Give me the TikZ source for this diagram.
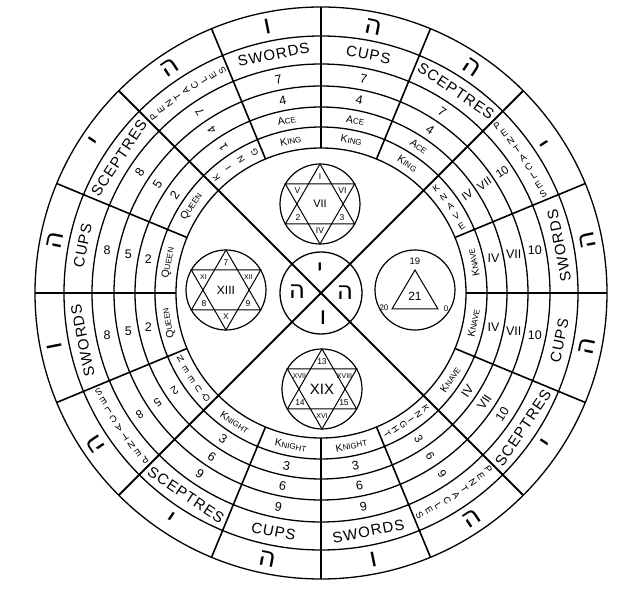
\documentclass[tikz,border=0pt]{standalone}
\usepackage{fontspec}
\setmainfont{Liberation Sans}
\newfontfamily\heb[Script=Hebrew]{DejaVu Sans}
\newfontfamily\suitf[LetterSpace=7]{Liberation Sans}
\TeXXeTstate=1
\newcommand{\hb}[1]{{\heb\beginR #1\endR}}
\newcommand{\fsz}[1]{\fontsize{#1}{#1}\selectfont}
\newcommand{\smc}[2]{{\fsz{10.5}#1\fsz{8}#2}}
\begin{document}
\begin{tikzpicture}[x=1pt,y=1pt,
  ring/.style={line width=1.3pt},
  spoke/.style={line width=1.6pt},
  diag/.style={line width=1.9pt},
  lbl/.style={inner sep=0pt,outer sep=0pt},
  medal/.style={circle,draw,line width=1.2pt,minimum size=80pt,inner sep=0pt,outer sep=0pt},
  starline/.style={line width=1pt},
  tiny/.style={lbl,font={\fsz{8.5}}},
  tinier/.style={lbl,font={\fsz{7}}}]
\useasboundingbox (-321,-298) rectangle (306,293);
\fill[white] (-321,-298) rectangle (306,293);
\coordinate (O) at (0,0);
% rings
\foreach \r in {145,166,186,207,229,257,286} \draw[ring] (O) circle (\r);
% spokes
\foreach \a in {0,22.5,67.5,90,112.5,157.5,180,202.5,247.5,270,292.5,337.5}
  \draw[spoke] (\a:145) -- (\a:286);
\draw[diag] (45:286) -- (225:286);
\draw[diag] (135:286) -- (315:286);
% central circle
\draw[ring] (O) circle (41);
\node[lbl,font={\fsz{25}\heb}] (cy) at (-1,23) {\hb{י}};
\node[lbl,font={\fsz{25}\heb}] (ch1) at (-24,1) {\hb{ה}};
\node[lbl,font={\fsz{25}\heb}] (ch2) at (24,0) {\hb{ה}};
\node[lbl,font={\fsz{25}\heb}] (cv) at (2,-25) {\hb{ו}};
% ordinary sectors
\foreach \t/\ro/\nr/\hl/\su/\na/\nb/\nc/\co [count=\i] in {
 56.25/-33.75/-33.75/ה/SCEPTRES/7/4/\smc{A}{CE}/\smc{K}{ING},
 78.75/-11.25/-11.25/ה/CUPS/7/4/\smc{A}{CE}/\smc{K}{ING},
 101.25/11.25/11.25/ו/SWORDS/7/4/\smc{A}{CE}/\smc{K}{ING},
 146.25/56.25/56.25/י/SCEPTRES/8/5/2/\smc{Q}{UEEN},
 168.75/78.75/0/ה/CUPS/8/5/2/\smc{Q}{UEEN},
 191.25/101.25/0/ו/SWORDS/8/5/2/\smc{Q}{UEEN},
 236.25/-33.75/-33.75/י/SCEPTRES/9/6/3/\smc{K}{NIGHT},
 258.75/-11.25/-11.25/ה/CUPS/9/6/3/\smc{K}{NIGHT},
 281.25/11.25/11.25/ו/SWORDS/9/6/3/\smc{K}{NIGHT},
 326.25/56.25/56.25/י/SCEPTRES/10/VII/IV/\smc{K}{NAVE},
 348.75/78.75/0/ה/CUPS/10/VII/IV/\smc{K}{NAVE},
 11.25/101.25/0/ה/SWORDS/10/VII/IV/\smc{K}{NAVE}}{
  \node[lbl,rotate=\ro,font={\fsz{27}\heb}] (h\i) at (\t:271.5) {\hb{\hl}};
  \node[lbl,rotate=\ro,font={\suitf\fsz{15}}] (s\i) at (\t:243) {\su};
  \node[lbl,rotate=\nr,font={\fsz{12.5}}] (a\i) at (\t:218) {\na};
  \node[lbl,rotate=\nr,font={\fsz{12.5}}] (b\i) at (\t:196.5) {\nb};
  \node[lbl,rotate=\nr,font={\fsz{12.5}}] (c\i) at (\t:176) {\nc};
  \node[lbl,rotate=\ro] (d\i) at (\t:155.5) {\co};
}
% pentacles sectors (stacked lettering)
\foreach \t/\ro/\hl/\na/\nb/\nc/\co/\cn [count=\i] in {
 33.75/123.75/י/10/VII/IV/{K,N,A,V,E}/5,
 123.75/33.75/ה/7/4/1/{K,I,N,G}/4,
 213.75/123.75/ה/8/5/2/{Q,U,E,E,N}/5,
 303.75/33.75/ה/9/6/3/{K,N,I,G,H,T}/6}{
  \node[lbl,rotate=\ro,font={\fsz{27}\heb}] (ph\i) at (\t:271.5) {\hb{\hl}};
  \foreach \ch [count=\k] in {P,E,N,T,A,C,L,E,S}{
    \pgfmathsetmacro\ang{\t+2.45*(5-\k)}
    \node[lbl,rotate=\t,font={\fsz{9.5}}] (ps\i-\k) at (\ang:243) {\ch};
  }
  \node[lbl,rotate=\t,font={\fsz{11.5}}] (pa\i) at (\t:218) {\na};
  \node[lbl,rotate=\t,font={\fsz{11.5}}] (pb\i) at (\t:196.5) {\nb};
  \node[lbl,rotate=\t,font={\fsz{11.5}}] (pc\i) at (\t:176) {\nc};
  \pgfmathsetmacro\st{17/(\cn-1)}
  \foreach \ch [count=\k] in \co {
    \pgfmathsetmacro\ang{\t+\st*((\cn+1)/2-\k)}
    \node[lbl,rotate=\t,font={\fsz{9}}] (pd\i-\k) at (\ang:155.5) {\ch};
  }
}
% top medallion
\node[medal] (mt) at (-1,89) {};
\draw[starline] (mt.90) -- (mt.210) -- (mt.330) -- cycle;
\draw[starline] (mt.270) -- (mt.30) -- (mt.150) -- cycle;
\node[lbl,font={\fsz{11}}] (mtc) at (mt.center) {VII};
\node[tiny] (mt1) at ([shift={(0,27)}]mt.center) {I};
\node[tiny] (mt2) at ([shift={(-22.5,13)}]mt.center) {V};
\node[tiny] (mt3) at ([shift={(22.5,13)}]mt.center) {VI};
\node[tiny] (mt4) at ([shift={(-22,-14)}]mt.center) {2};
\node[tiny] (mt5) at ([shift={(22,-14)}]mt.center) {3};
\node[tiny] (mt6) at ([shift={(0,-27)}]mt.center) {IV};
% left medallion
\node[medal] (ml) at (-95,3) {};
\draw[starline] (ml.90) -- (ml.210) -- (ml.330) -- cycle;
\draw[starline] (ml.270) -- (ml.30) -- (ml.150) -- cycle;
\node[lbl,font={\fsz{12}}] (mlc) at (ml.center) {XIII};
\node[tiny] (ml1) at ([shift={(0,27)}]ml.center) {7};
\node[tinier] (ml2) at ([shift={(-22.5,13)}]ml.center) {XI};
\node[tinier] (ml3) at ([shift={(22.5,13)}]ml.center) {XII};
\node[tiny] (ml4) at ([shift={(-22,-14)}]ml.center) {8};
\node[tiny] (ml5) at ([shift={(22,-14)}]ml.center) {9};
\node[tiny] (ml6) at ([shift={(0,-27)}]ml.center) {X};
% bottom medallion
\node[medal] (mb) at (1,-96) {};
\draw[starline] (mb.90) -- (mb.210) -- (mb.330) -- cycle;
\draw[starline] (mb.270) -- (mb.30) -- (mb.150) -- cycle;
\node[lbl,font={\fsz{15}}] (mbc) at (mb.center) {XIX};
\node[tiny] (mb1) at ([shift={(0,27)}]mb.center) {13};
\node[tinier] (mb2) at ([shift={(-22.5,13)}]mb.center) {XVII};
\node[tinier] (mb3) at ([shift={(22.5,13)}]mb.center) {XVIII};
\node[tiny] (mb4) at ([shift={(-22,-14)}]mb.center) {14};
\node[tiny] (mb5) at ([shift={(22,-14)}]mb.center) {15};
\node[tinier] (mb6) at ([shift={(0,-27)}]mb.center) {XVI};
% right medallion
\node[medal] (mr) at (94,3) {};
\coordinate (ta) at ([shift={(0,20)}]mr.center);
\coordinate (tb) at ([shift={(-23,-19)}]mr.center);
\coordinate (tc) at ([shift={(23,-19)}]mr.center);
\draw[starline] (ta) -- (tb) -- (tc) -- cycle;
\node[lbl,font={\fsz{12}}] (mrc) at ([shift={(0,-6)}]mr.center) {21};
\node[lbl,font={\fsz{9.5}}] (mr1) at ([shift={(0,29)}]mr.center) {19};
\node[lbl,font={\fsz{8}}] (mr2) at ([shift={(-31,-18)}]mr.center) {20};
\node[lbl,font={\fsz{8}}] (mr3) at ([shift={(31,-19)}]mr.center) {0};
\end{tikzpicture}
\end{document}
